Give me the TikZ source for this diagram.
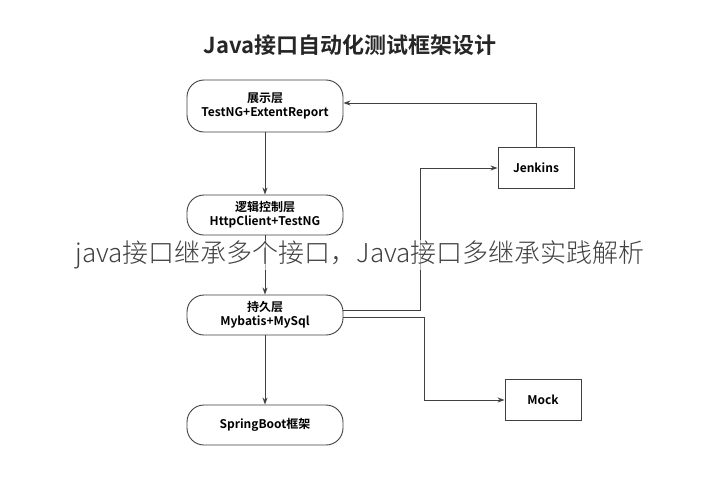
\documentclass[tikz,border=0pt]{standalone}
\usepackage{fontspec}
\setmainfont{Noto Sans CJK SC}
\newfontfamily\cjkb{Noto Sans CJK SC Bold}
\newfontfamily\cjkl{Noto Sans CJK SC Light}
\usetikzlibrary{arrows.meta}
\begin{document}
\begin{tikzpicture}[x=1pt,y=-1pt,
  layer/.style={draw=black!75,line width=0.9pt,rounded corners=17pt,minimum width=156pt,align=center,font=\cjkb\fontsize{12}{14}\selectfont,inner sep=2pt},
  sbox/.style={draw=black!75,line width=0.9pt,minimum width=76pt,minimum height=41pt,font=\cjkb\fontsize{12}{14}\selectfont},
  conn/.style={draw=black!75,line width=0.9pt},
  arr/.style={conn,-{Stealth[length=7pt,width=5pt]}}]
\useasboundingbox (0,0) rectangle (719,490);
\fill[white] (0,0) rectangle (719,490);
\node[font=\cjkb\fontsize{22}{26}\selectfont,text=black!85] (title) at (350,45) {Java接口自动化测试框架设计};
\node[layer,minimum height=52pt] (n1) at (265,106) {展示层\\TestNG+ExtentReport};
\node[layer,minimum height=40pt] (n2) at (265,215) {逻辑控制层\\HttpClient+TestNG};
\node[layer,minimum height=40pt] (n3) at (265,315) {持久层\\Mybatis+MySql};
\node[layer,minimum height=40pt] (n4) at (265,425) {SpringBoot框架};
\node[sbox] (jen) at (536,168) {Jenkins};
\node[sbox] (mock) at (543,400) {Mock};
\draw[arr] (n1) -- (n2);
\draw[arr] (n2) -- (n3);
\draw[arr] (n3) -- (n4);
\coordinate (a1) at (420,310);
\coordinate (a2) at (424,317);
\draw[arr] (n3.east |- a1) -- (a1) |- (jen.west);
\draw[arr] (n3.east |- a2) -- (a2) |- (mock.west);
\draw[arr] (jen.north) |- (n1.east |- 0,103);
\node[font=\cjkl\fontsize{26}{30}\selectfont,text=black!75,fill=white,fill opacity=0.6,text opacity=1,inner sep=1pt] (ov) at (360,255) {java接口继承多个接口，Java接口多继承实践解析};
\end{tikzpicture}
\end{document}
